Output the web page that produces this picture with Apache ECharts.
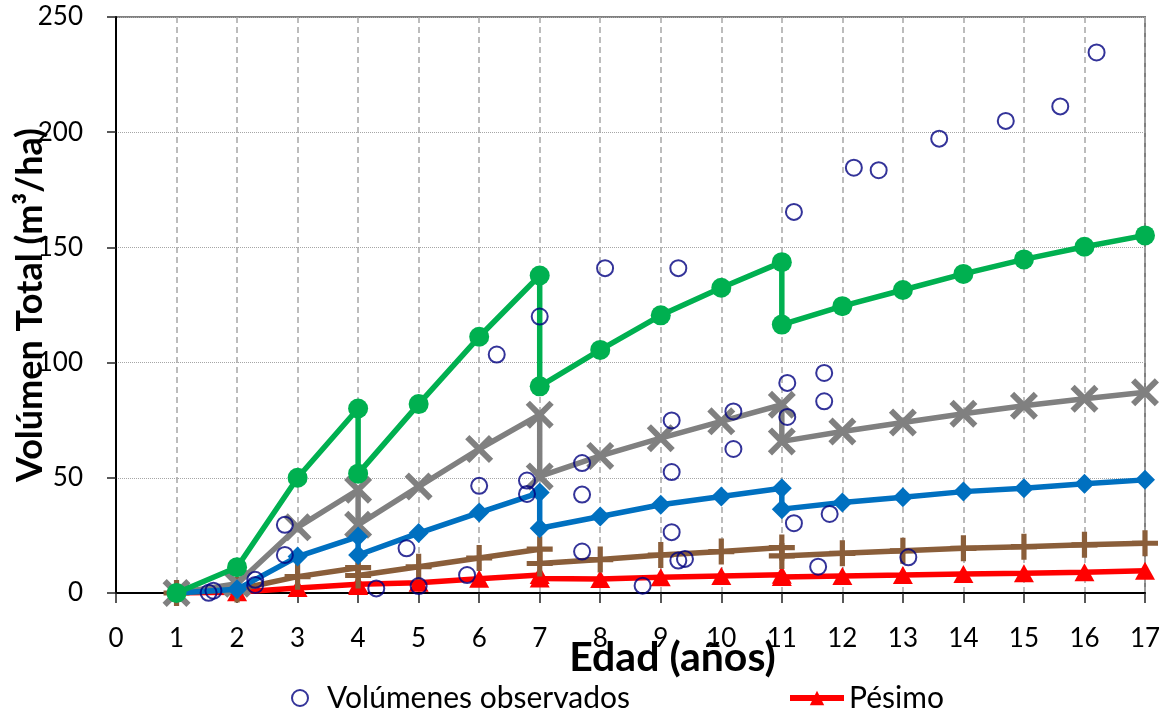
<!DOCTYPE html>
<html><head><meta charset="utf-8">
<script src="https://cdn.jsdelivr.net/npm/echarts@6/dist/echarts.min.js"></script>
<style>html,body{margin:0;padding:0;background:#fff}#c{width:1162px;height:711px}</style>
</head><body><div id="c"></div>
<script>
// Ages (years) for the model curves; repeated ages are thinning drops
const ages   = [1, 2, 3,   4,    4,   5,    6,    7,    7,    8,    9,    10,   11,   11,   12,   13,   14,   15,   16,   17];
const pesimo = [0, 0.3, 2.2, 3.8, 3.0, 4.5,  6.2,  7.8,  6.3,  6.1,  6.8,  7.4,  7.9,  6.9,  7.4,  7.8,  8.3,  8.6,  9.0,  9.7];
const brown  = [0, 1.5, 7.1, 11.0, 7.6, 11.4, 15.2, 19.0, 12.8, 14.5, 16.5, 18.0, 19.7, 16.1, 17.2, 18.3, 19.4, 20.1, 20.9, 21.6];
const blue   = [0, 1.6, 15.8, 24.5, 16.5, 26.0, 34.9, 43.6, 28.1, 33.2, 38.3, 41.9, 45.5, 36.4, 39.3, 41.6, 44.0, 45.5, 47.4, 49.1];
const gray   = [0, 4.0, 28.5, 44.8, 29.6, 46.2, 62.5, 77.4, 50.6, 59.5, 67.2, 74.5, 81.7, 65.8, 70.1, 74.0, 77.8, 81.3, 84.3, 87.1];
const green  = [0, 11.2, 50.0, 80.1, 51.8, 82.0, 111.2, 137.8, 89.7, 105.5, 120.5, 132.5, 143.6, 116.5, 124.5, 131.5, 138.5, 144.8, 150.3, 155.2];

// Observed volumes
const obsAge = [1.53, 1.61, 2.30, 2.30, 2.79, 2.79, 4.30, 4.80, 5.00, 5.80, 6.00, 6.29, 6.79, 6.79, 7.00, 7.70, 7.70, 7.70, 8.08, 8.70, 9.18, 9.18, 9.18, 9.29, 9.40, 9.29, 10.20, 10.20, 11.09, 11.09, 11.20, 11.20, 11.60, 11.70, 11.70, 11.79, 12.19, 12.60, 13.09, 13.60, 14.70, 15.60, 16.20];
const obsVol = [0.1, 1.0, 5.7, 3.5, 29.6, 16.5, 2.0, 19.4, 3.0, 7.8, 46.5, 103.5, 48.8, 43.0, 120.0, 56.4, 42.7, 18.0, 141.0, 3.2, 74.9, 52.5, 26.4, 14.1, 14.8, 141.0, 78.8, 62.5, 91.2, 76.4, 30.3, 165.4, 11.4, 95.5, 83.2, 34.3, 184.6, 183.5, 15.5, 197.2, 204.9, 211.2, 234.6];

const xTicks = {min: 0, max: 17, step: 1};
const yTicks = {min: 0, max: 250, step: 50};

const FONT = 'Lato, "Open Sans", sans-serif';
const pair = (xs, ys) => xs.map((x, i) => [x, ys[i]]);
const plusPath = 'path://M4,0H6V4H10V6H6V10H4V6H0V4H4Z';
const crossPath = 'path://M0,1.5L1.5,0L5,3.5L8.5,0L10,1.5L6.5,5L10,8.5L8.5,10L5,6.5L1.5,10L0,8.5L3.5,5Z';

function lineSeries(name, data, color, symbol, size, z) {
  return {
    name, type: 'line', data: pair(ages, data), z,
    symbol, symbolSize: size, showSymbol: true, showAllSymbol: true,
    lineStyle: {color, width: 5.5}, itemStyle: {color, borderWidth: 0},
    emphasis: {disabled: true}, animation: false
  };
}

const chart = echarts.init(document.getElementById('c'));
chart.setOption({
  backgroundColor: '#fff',
  animation: false,
  grid: {left: 116, right: 17, top: 17, bottom: 118, containLabel: false, outerBoundsMode: 'none',
         show: true, borderColor: '#808080', borderWidth: 2, backgroundColor: 'transparent'},
  xAxis: {
    type: 'value', min: xTicks.min, max: xTicks.max, interval: xTicks.step,
    name: 'Edad (años)', nameLocation: 'middle', nameGap: 44, nameMoveOverlap: false,
    nameTextStyle: {fontFamily: FONT, fontWeight: 'bold', fontSize: 41, color: '#000', padding: [0, 0, 0, 84]},
    axisLine: {show: true, lineStyle: {color: '#000', width: 2}},
    axisTick: {show: true, length: 10, lineStyle: {color: '#222', width: 1.5}},
    axisLabel: {fontFamily: FONT, fontSize: 26, color: '#000', margin: 33},
    splitLine: {show: true, lineStyle: {type: [6, 4], color: '#a6a6a6', width: 1.5}}
  },
  yAxis: {
    type: 'value', min: yTicks.min, max: yTicks.max, interval: yTicks.step,
    name: 'Volúmen Total (m³/ha)', nameLocation: 'middle', nameGap: 68, nameMoveOverlap: false,
    nameTextStyle: {fontFamily: FONT, fontWeight: 'bold', fontSize: 36, color: '#000'},
    axisLine: {show: true, lineStyle: {color: '#000', width: 2}},
    axisTick: {show: true, length: 9, lineStyle: {color: '#222', width: 1.5}},
    axisLabel: {fontFamily: FONT, fontSize: 26, color: '#000', margin: 33},
    splitLine: {show: true, lineStyle: {type: 'dotted', color: '#a6a6a6', width: 1}}
  },
  legend: [
    {data: ['Volúmenes observados'], left: 286, top: 678, icon: 'circle', itemWidth: 16, itemHeight: 16,
     itemStyle: {color: 'transparent', borderColor: '#000080', borderWidth: 2},
     textStyle: {fontFamily: FONT, fontSize: 30, color: '#000', padding: [0, 0, 0, 14]}},
    {data: ['Pésimo'], left: 782, top: 678, itemWidth: 54, itemHeight: 18,
     lineStyle: {width: 6, color: '#ff0000'},
     textStyle: {fontFamily: FONT, fontSize: 30, color: '#000'}}
  ],
  series: [
    lineSeries('Pésimo', pesimo, '#ff0000', 'triangle', [20, 18], 2),
    lineSeries('Regular', brown, '#8a5e3a', plusPath, 26, 3),
    lineSeries('Medio', gray, '#808080', crossPath, 28, 4),
    lineSeries('Bueno', blue, '#0070c0', 'diamond', 20, 5),
    lineSeries('Excelente', green, '#00b050', 'circle', 20, 6),
    {
      name: 'Volúmenes observados', type: 'scatter', data: pair(obsAge, obsVol), z: 10,
      symbol: 'circle', symbolSize: 16,
      itemStyle: {color: 'transparent', borderColor: '#000080', borderWidth: 2},
      emphasis: {disabled: true}
    }
  ]
});
</script></body></html>
